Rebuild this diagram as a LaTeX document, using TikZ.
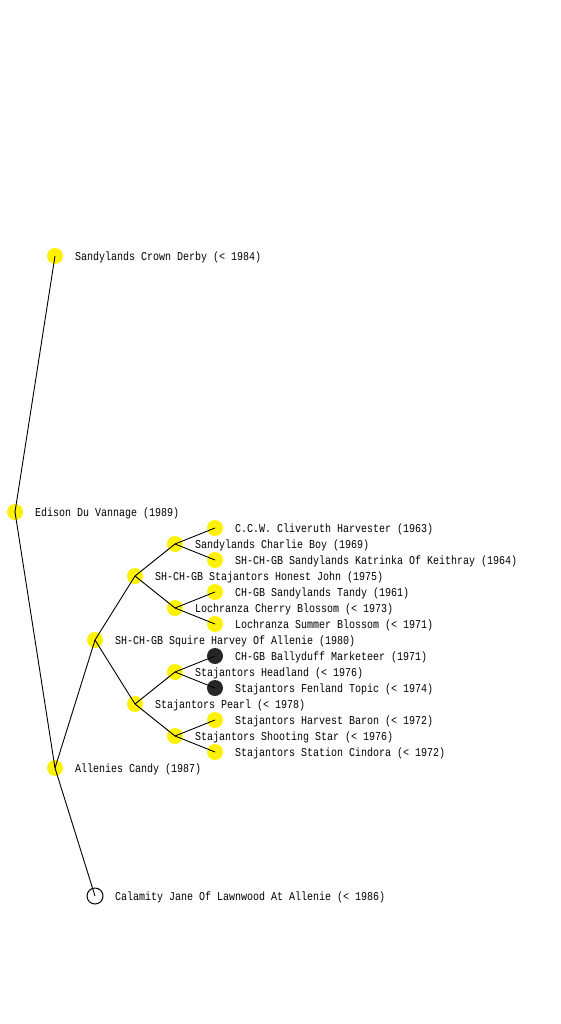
\documentclass[tikz,border=0pt]{standalone}
\usepackage{fontspec}
\setmonofont{Liberation Mono}
\newcommand\dogtxt[1]{\scalebox{0.8333}[1]{#1}}
\begin{document}
\begin{tikzpicture}[x=1pt,y=-1pt,
  dog/.style={circle,minimum size=16pt,inner sep=0pt,fill=yellow},
  darkdog/.style={circle,minimum size=16pt,inner sep=0pt,fill=black!85},
  emptydog/.style={circle,minimum size=16pt,inner sep=0pt,draw=black,line width=1pt,fill=white},
  dogname/.style={anchor=base west,inner sep=0pt,font=\ttfamily\fontsize{12}{14}\selectfont},
  link/.style={draw=black,line width=0.9pt}]
\useasboundingbox[fill=white] (0,0) rectangle (560,1024);
% nodes
\node[dog] (edison) at (15,512) {};
\node[dog] (crown) at (55,256) {};
\node[dog] (candy) at (55,768) {};
\node[emptydog] (calamity) at (95,896) {};
\node[dog] (squire) at (95,640) {};
\node[dog] (honest) at (135,576) {};
\node[dog] (pearl) at (135,704) {};
\node[dog] (charlie) at (175,544) {};
\node[dog] (cherry) at (175,608) {};
\node[dog] (headland) at (175,672) {};
\node[dog] (shooting) at (175,736) {};
\node[dog] (cliveruth) at (215,528) {};
\node[dog] (katrinka) at (215,560) {};
\node[dog] (tandy) at (215,592) {};
\node[dog] (summer) at (215,624) {};
\node[darkdog] (ballyduff) at (215,656) {};
\node[darkdog] (fenland) at (215,688) {};
\node[dog] (baron) at (215,720) {};
\node[dog] (cindora) at (215,752) {};
% labels
\node[dogname] (tedison) at (35,516) {\dogtxt{Edison Du Vannage (1989)}};
\node[dogname] (tcrown) at (75,260) {\dogtxt{Sandylands Crown Derby (< 1984)}};
\node[dogname] (tcandy) at (75,772) {\dogtxt{Allenies Candy (1987)}};
\node[dogname] (tcalamity) at (115,900) {\dogtxt{Calamity Jane Of Lawnwood At Allenie (< 1986)}};
\node[dogname] (tsquire) at (115,644) {\dogtxt{SH-CH-GB Squire Harvey Of Allenie (1980)}};
\node[dogname] (thonest) at (155,580) {\dogtxt{SH-CH-GB Stajantors Honest John (1975)}};
\node[dogname] (tpearl) at (155,708) {\dogtxt{Stajantors Pearl (< 1978)}};
\node[dogname] (tcharlie) at (195,548) {\dogtxt{Sandylands Charlie Boy (1969)}};
\node[dogname] (tcherry) at (195,612) {\dogtxt{Lochranza Cherry Blossom (< 1973)}};
\node[dogname] (theadland) at (195,676) {\dogtxt{Stajantors Headland (< 1976)}};
\node[dogname] (tshooting) at (195,740) {\dogtxt{Stajantors Shooting Star (< 1976)}};
\node[dogname] (tcliveruth) at (235,532) {\dogtxt{C.C.W. Cliveruth Harvester (1963)}};
\node[dogname] (tkatrinka) at (235,564) {\dogtxt{SH-CH-GB Sandylands Katrinka Of Keithray (1964)}};
\node[dogname] (ttandy) at (235,596) {\dogtxt{CH-GB Sandylands Tandy (1961)}};
\node[dogname] (tsummer) at (235,628) {\dogtxt{Lochranza Summer Blossom (< 1971)}};
\node[dogname] (tballyduff) at (235,660) {\dogtxt{CH-GB Ballyduff Marketeer (1971)}};
\node[dogname] (tfenland) at (235,692) {\dogtxt{Stajantors Fenland Topic (< 1974)}};
\node[dogname] (tbaron) at (235,724) {\dogtxt{Stajantors Harvest Baron (< 1972)}};
\node[dogname] (tcindora) at (235,756) {\dogtxt{Stajantors Station Cindora (< 1972)}};
% connectors
\draw[link] (edison.center) -- (crown.center);
\draw[link] (edison.center) -- (candy.center);
\draw[link] (candy.center) -- (squire.center);
\draw[link] (candy.center) -- (calamity.center);
\draw[link] (squire.center) -- (honest.center);
\draw[link] (squire.center) -- (pearl.center);
\draw[link] (honest.center) -- (charlie.center);
\draw[link] (honest.center) -- (cherry.center);
\draw[link] (pearl.center) -- (headland.center);
\draw[link] (pearl.center) -- (shooting.center);
\draw[link] (charlie.center) -- (cliveruth.center);
\draw[link] (charlie.center) -- (katrinka.center);
\draw[link] (cherry.center) -- (tandy.center);
\draw[link] (cherry.center) -- (summer.center);
\draw[link] (headland.center) -- (ballyduff.center);
\draw[link] (headland.center) -- (fenland.center);
\draw[link] (shooting.center) -- (baron.center);
\draw[link] (shooting.center) -- (cindora.center);
\end{tikzpicture}
\end{document}
